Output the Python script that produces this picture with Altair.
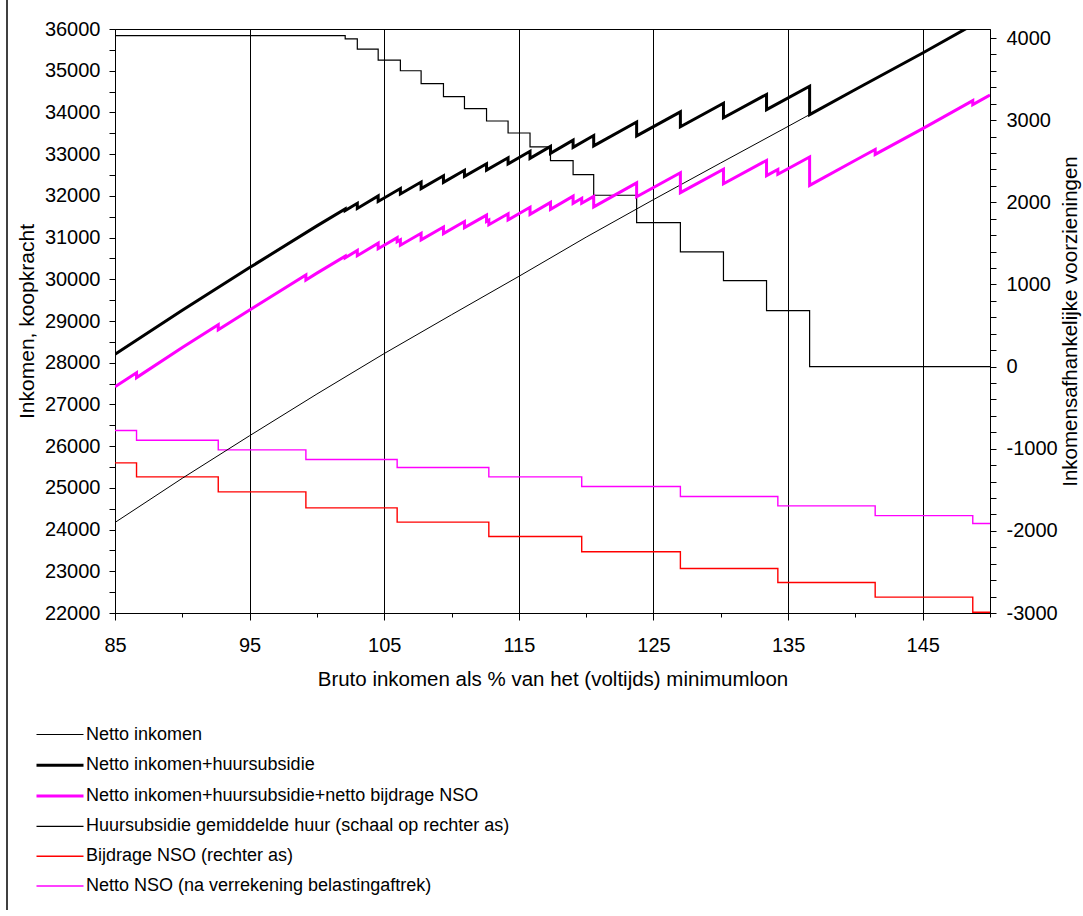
import altair as alt
import pandas as pd

# ---------------- data ----------------
SERIES = [
    "Netto inkomen",
    "Netto inkomen+huursubsidie",
    "Netto inkomen+huursubsidie+netto bijdrage NSO",
    "Huursubsidie gemiddelde huur (schaal op rechter as)",
    "Bijdrage NSO (rechter as)",
    "Netto NSO (na verrekening belastingaftrek)",
]
COLORS = ["#000000", "#000000", "#FF00FF", "#000000", "#FF0000", "#FF00FF"]
WIDTHS = [1, 3, 3, 1.2, 1.4, 1.4]

# left axis series
ni_x = [85, 90, 95, 100, 105, 110, 115, 120, 125, 130, 135, 140, 145, 150]
ni_y = [24170, 25230, 26250, 27250, 28220, 29150, 30070, 31010, 31910, 32790,
        33665, 34550, 35425, 36330]

nih_x = [85, 90, 95, 100, 102.1, 102.1, 103.0, 103.0, 104.55, 104.55, 106.2, 106.2,
         107.74, 107.74, 109.4, 109.4, 110.96, 110.96, 112.6, 112.6, 114.2, 114.2,
         115.83, 115.83, 117.35, 117.35, 119.03, 119.03, 120.56, 120.56, 123.75, 123.75,
         127.0, 127.0, 130.2, 130.2, 133.4, 133.4, 136.6, 136.6, 140, 145, 150]
nih_y = [28200, 29260, 30280, 31280, 31687, 31647, 31822, 31698, 31999, 31865, 32175, 32045,
         32332, 32174, 32482, 32324, 32613, 32467, 32768, 32618, 32913, 32767,
         33070, 32900, 33186, 33019, 33335, 33164, 33447, 33197, 33771, 33437,
         34014, 33658, 34221, 33871, 34431, 34066, 34629, 33948, 34550, 35425, 36330]

nihn_x = [85, 86.6, 86.6, 90, 92.67, 92.67, 95, 99.18, 99.18, 100,
          102.1, 102.1, 103.0, 103.0, 104.55, 104.55, 105.96, 105.96, 106.2, 106.2,
          107.74, 107.74, 109.4, 109.4, 110.96, 110.96, 112.6, 112.6, 112.77, 112.77,
          114.2, 114.2, 115.83, 115.83, 117.35, 117.35, 119.03, 119.03, 119.67, 119.67,
          120.56, 120.56, 123.75, 123.75, 127.0, 127.0, 130.2, 130.2, 133.4, 133.4,
          134.24, 134.24, 136.6, 136.6, 140, 141.47, 141.47, 145, 148.72, 148.72, 150]
nihn_y = [27421, 27760, 27643, 28364, 28909, 28791, 29266, 30102, 29984, 30148,
          30555, 30515, 30690, 30566, 30867, 30733, 30999, 30902, 30946, 30816,
          31103, 30945, 31253, 31095, 31384, 31238, 31539, 31389, 31421, 31307,
          31570, 31424, 31727, 31557, 31843, 31676, 31992, 31821, 31941, 31824,
          31987, 31737, 32311, 31977, 32554, 32076, 32639, 32289, 32849, 32484,
          32631, 32517, 32933, 32252, 32854, 33111, 32993, 33611, 34284, 34187, 34419]

# right axis series (step functions)
huur_x = [85, 102.1, 103.0, 104.55, 106.2, 107.74, 109.4, 110.96, 112.6, 114.2,
          115.83, 117.35, 119.03, 120.56, 123.75, 127.0, 130.2, 133.4, 136.6, 150]
huur_y = [4030, 3990, 3866, 3732, 3602, 3444, 3286, 3140, 2990, 2844,
          2674, 2507, 2336, 2086, 1752, 1396, 1046, 681, 0, 0]

nso_x = [85, 86.6, 92.67, 99.18, 105.96, 112.77, 119.67, 127.0, 134.24, 141.47, 148.72, 150]
bijdrage_y = [-1172, -1343, -1525, -1720, -1894, -2069, -2255, -2459, -2629, -2807, -2990, -2990]
netto_nso_y = [-779, -896, -1014, -1132, -1229, -1343, -1460, -1582, -1696, -1814, -1911, -1911]

x_ticks = list(range(85, 151, 5))
yl_ticks = list(range(22000, 36001, 500))
yr_ticks = list(range(-3000, 4001, 200))


def frame(name, xs, ys):
    return pd.DataFrame({"series": name, "x": xs, "y": ys, "ord": range(len(xs))})


left_df = pd.concat([
    frame(SERIES[0], ni_x, ni_y),
    frame(SERIES[1], nih_x, nih_y),
    frame(SERIES[2], nihn_x, nihn_y),
], ignore_index=True)

right_df = pd.concat([
    frame(SERIES[3], huur_x, huur_y),
    frame(SERIES[4], nso_x, bijdrage_y),
    frame(SERIES[5], nso_x, netto_nso_y),
], ignore_index=True)

FONT = "Liberation Sans"
TICK_FS = 20

legend = alt.Legend(
    title=None, orient="none", legendX=-66.5, legendY=695, direction="vertical",
    symbolType="M-2.35,0H2.35", symbolSize=400, labelFontSize=18, labelLimit=800,
    labelOffset=14.5, rowPadding=9.8, padding=0, labelColor="black", labelFont=FONT,
)

X = alt.X(
    "x:Q",
    scale=alt.Scale(domain=[85, 150], nice=False, zero=False),
    axis=alt.Axis(
        values=x_ticks,
        labelExpr="datum.value % 10 == 5 ? datum.label : ''",
        grid=True,
        gridColor={"condition": {"test": "datum.value % 10 == 5", "value": "#000000"},
                   "value": "rgba(0,0,0,0)"},
        gridWidth=1,
        tickSize={"condition": {"test": "datum.value % 10 == 5", "value": 7}, "value": 4},
        tickColor="black", tickWidth=1, domainColor="black", domainWidth=1,
        labelFontSize=TICK_FS, labelColor="black", labelPadding=15, labelFlush=False,
        labelOverlap=False,
        title="Bruto inkomen als % van het (voltijds) minimumloon",
        titleFontSize=20.5, titleFontWeight="normal", titleColor="black", titlePadding=14,
    ),
)

color = alt.Color("series:N", scale=alt.Scale(domain=SERIES, range=COLORS), legend=legend)
swidth = alt.StrokeWidth(
    "series:N",
    scale=alt.Scale(type="ordinal", domain=SERIES, range=WIDTHS),
    legend=legend,
)

left = alt.Chart(left_df).mark_line(clip=True).encode(
    x=X,
    y=alt.Y(
        "y:Q",
        scale=alt.Scale(domain=[22000, 36000], nice=False, zero=False),
        axis=alt.Axis(
            values=yl_ticks,
            labelExpr="datum.value % 1000 == 0 ? '' + datum.value : ''",
            grid=False, tickSize=6, tickColor="black", domainColor="black",
            labelFontSize=TICK_FS, labelColor="black", labelPadding=9, labelFlush=False,
            labelOverlap=False,
            title="Inkomen, koopkracht", titleFontSize=21, titleFontWeight="normal",
            titleColor="black", titlePadding=7,
        ),
    ),
    color=color,
    strokeWidth=swidth,
    order=alt.Order("ord:Q"),
)

right = alt.Chart(right_df).mark_line(clip=True, interpolate="step-after").encode(
    x=X,
    y=alt.Y(
        "y:Q",
        scale=alt.Scale(domain=[-3000, 4110], nice=False, zero=False),
        axis=alt.Axis(
            orient="right",
            values=yr_ticks,
            labelExpr="datum.value % 1000 == 0 ? '' + datum.value : ''",
            grid=False, tickSize=6, tickColor="black", domainColor="black",
            labelFontSize=TICK_FS, labelColor="black", labelPadding=10, labelFlush=False,
            labelOverlap=False,
            title="Inkomensafhankelijke voorzieningen", titleFontSize=20.5,
            titleFontWeight="normal", titleColor="black", titlePadding=3,
            titleAngle=270, titleBaseline="top",
        ),
    ),
    color=color,
    strokeWidth=swidth,
    order=alt.Order("ord:Q"),
)

border = alt.Chart(pd.DataFrame({"a": [0]})).mark_rule(
    color="black", strokeWidth=1.5, clip=False
).encode(x=alt.value(-108), y=alt.value(-29), y2=alt.value(881))

chart = alt.layer(right, left, border).resolve_scale(y="independent").properties(
    width=875,
    height=584,
    autosize=alt.AutoSizeParams(type="none"),
    padding={"left": 115, "top": 29, "right": 93, "bottom": 297},
).configure(font=FONT).configure_view(stroke="black", strokeWidth=1)

chart.save("out.html", embed_options={"renderer": "svg", "actions": False})
